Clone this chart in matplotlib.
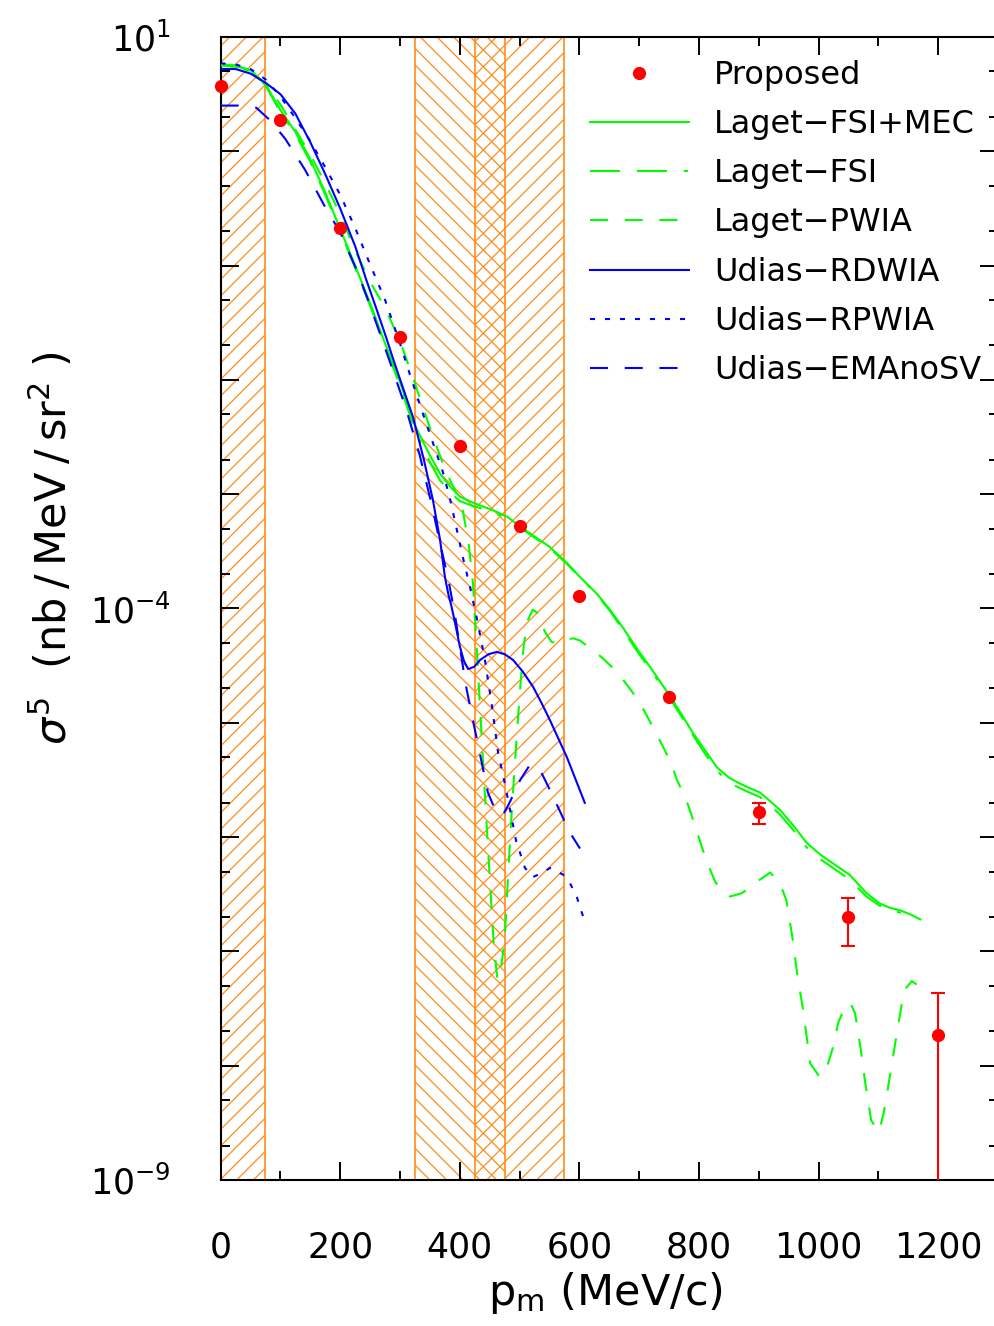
import numpy as np
import matplotlib
matplotlib.use("Agg")
import matplotlib.pyplot as plt
from matplotlib.lines import Line2D
from matplotlib.ticker import (FixedLocator, LogLocator, MultipleLocator,
                               FuncFormatter, NullFormatter)

plt.rcParams.update({
    "font.family": "DejaVu Sans",
    "mathtext.fontset": "dejavusans",
    "lines.scale_dashes": False,
    "hatch.linewidth": 0.9,
    "axes.linewidth": 1.5,
})

GREEN = "#00ff00"
BLUE = "#0000ff"
RED = "#ff0000"
ORANGE = "#ff8c1a"

# ---- proposed measurement: p_m (MeV/c), sigma5 (nb/MeV/sr^2) ----
prop_p = [0, 100, 200, 300, 400, 500, 600, 750, 900, 1050, 1200]
prop_log = [0.571, 0.270, -0.671, -1.625, -2.580, -3.280, -3.891, -4.772,
            -5.783, -6.696, -7.731]
prop_err = [0, 0, 0, 0, 0, 0, 0, 0, 0.35e-6, 0.89e-7, 2.47e-8]

# ---- Laget FSI+MEC (log10 sigma) ----
mec_p = [0, 25, 50, 75, 100, 125, 150, 175, 200, 225, 250, 275, 300, 325,
         350, 367, 385, 400, 420, 440, 460, 480, 500, 525, 550, 579, 600,
         629, 651, 673, 700, 718, 735, 752, 770, 790, 810, 830, 850, 864,
         880, 902, 920, 935, 958, 980, 1002, 1024, 1052, 1080, 1102, 1120,
         1136, 1155, 1170]
mec_log = [0.76, 0.75, 0.71, 0.59, 0.36, 0.17, -0.07, -0.36, -0.68, -1.00,
           -1.33, -1.68, -2.02, -2.40, -2.66, -2.82, -2.94, -3.02, -3.07,
           -3.11, -3.15, -3.20, -3.28, -3.37, -3.46, -3.60, -3.72, -3.87,
           -4.01, -4.17, -4.38, -4.51, -4.64, -4.77, -4.92, -5.09, -5.24,
           -5.39, -5.48, -5.52, -5.56, -5.61, -5.69, -5.76, -5.90, -6.05,
           -6.15, -6.23, -6.33, -6.49, -6.58, -6.62, -6.64, -6.68, -6.72]

# ---- Laget FSI ----
fsi_p = [0, 25, 50, 75, 100, 125, 150, 175, 200, 225, 250, 275, 300, 325,
         350, 367, 385, 400, 420, 440, 460, 480, 500, 525, 550, 579, 600,
         629, 651, 673, 700, 718, 735, 752, 770, 790, 810, 830, 850, 864,
         880, 902, 920, 935, 958, 980, 1002, 1024, 1052, 1080, 1102, 1120,
         1136, 1155]
fsi_log = [0.76, 0.75, 0.70, 0.58, 0.34, 0.15, -0.09, -0.38, -0.70, -1.02,
           -1.35, -1.70, -2.05, -2.44, -2.72, -2.88, -2.99, -3.06, -3.10,
           -3.13, -3.17, -3.21, -3.29, -3.38, -3.47, -3.61, -3.72, -3.88,
           -4.02, -4.19, -4.40, -4.53, -4.66, -4.79, -4.94, -5.11, -5.27,
           -5.42, -5.52, -5.56, -5.60, -5.65, -5.73, -5.80, -5.94, -6.09,
           -6.19, -6.27, -6.37, -6.52, -6.60, -6.64, -6.66, -6.69]

# ---- Laget PWIA ----
pwia_p = [0, 25, 50, 75, 100, 125, 150, 175, 200, 225, 250, 275, 300, 325,
          350, 375, 395, 405, 415, 422, 430, 440, 450, 457, 463, 467, 472,
          476, 482, 487, 492, 497, 502, 507, 514, 522, 530, 542, 553, 563,
          575, 589, 601, 616, 638, 660, 680, 698, 712, 727, 740, 754, 763,
          777, 787, 797, 805, 815, 827, 840, 852, 872, 897, 919, 935, 946,
          956, 964, 974, 986, 1002, 1014, 1024, 1033, 1043, 1053, 1061,
          1070, 1078, 1088, 1101, 1109, 1119, 1131, 1143, 1156, 1164]
pwia_log = [0.75, 0.74, 0.69, 0.59, 0.41, 0.19, -0.03, -0.28, -0.55, -0.87,
            -1.14, -1.37, -1.66, -2.03, -2.42, -2.78, -3.00, -3.14, -3.44,
            -3.78, -4.50, -5.45, -6.35, -6.95, -7.25, -7.22, -7.02, -6.80,
            -6.22, -5.76, -5.37, -4.98, -4.63, -4.32, -4.10, -4.01, -4.04,
            -4.20, -4.29, -4.31, -4.28, -4.26, -4.28, -4.34, -4.43, -4.54,
            -4.67, -4.80, -4.93, -5.08, -5.21, -5.36, -5.50, -5.65, -5.80,
            -5.96, -6.09, -6.24, -6.39, -6.48, -6.52, -6.49, -6.39, -6.31,
            -6.40, -6.55, -6.87, -7.19, -7.51, -7.98, -8.10, -8.01, -7.84,
            -7.62, -7.50, -7.45, -7.54, -7.84, -8.15, -8.48, -8.58, -8.41,
            -8.10, -7.71, -7.34, -7.26, -7.29]

# ---- Udias RDWIA ----
rdwia_p = [0, 25, 50, 75, 100, 125, 150, 175, 200, 225, 244, 260, 275, 290,
           305, 322, 340, 355, 367, 375, 381, 386, 393, 400, 407, 414, 424,
           434, 448, 462, 475, 489, 505, 522, 537, 551, 565, 579, 594, 609]
rdwia_log = [0.72, 0.72, 0.68, 0.60, 0.50, 0.33, 0.08, -0.20, -0.50, -0.83,
             -1.13, -1.37, -1.60, -1.84, -2.07, -2.33, -2.70, -3.05, -3.40,
             -3.72, -3.88, -3.98, -4.15, -4.33, -4.46, -4.53, -4.51, -4.45,
             -4.40, -4.38, -4.40, -4.45, -4.55, -4.68, -4.83, -4.98, -5.14,
             -5.30, -5.50, -5.70]

# ---- Udias RPWIA ----
rpwia_p = [0, 25, 50, 75, 100, 125, 150, 175, 200, 225, 250, 275, 300, 317,
           338, 355, 372, 384, 395, 405, 417, 429, 442, 454, 464, 474, 484,
           494, 509, 522, 535, 551, 563, 573, 584, 596, 604, 611]
rpwia_log = [0.77, 0.76, 0.72, 0.63, 0.48, 0.29, 0.09, -0.14, -0.38, -0.67,
             -0.99, -1.30, -1.68, -1.96, -2.29, -2.55, -2.81, -3.05, -3.31,
             -3.55, -3.81, -4.10, -4.45, -4.86, -5.26, -5.50, -5.76, -6.03,
             -6.27, -6.35, -6.32, -6.27, -6.30, -6.33, -6.40, -6.53, -6.66,
             -6.77]

# ---- Udias EMAnoSV ----
ema_p = [0, 30, 60, 83, 108, 141, 173, 200, 226, 248, 283, 310, 333, 353,
         367, 381, 392, 410, 422, 434, 447, 459, 467, 475, 484, 501, 517,
         534, 551, 568, 584, 601]
ema_log = [0.40, 0.40, 0.38, 0.27, 0.11, -0.16, -0.47, -0.71, -1.02, -1.32,
           -1.84, -2.25, -2.66, -3.09, -3.43, -3.75, -4.06, -4.67, -4.98,
           -5.28, -5.61, -5.76, -5.81, -5.78, -5.69, -5.50, -5.37, -5.41,
           -5.59, -5.78, -5.96, -6.10]

# hatched p_m windows
bands = [(0, 75), (325, 475), (425, 575)]
band_hatch = ["//", "\\\\", "//"]

W, H = 995, 1326
fig = plt.figure(figsize=(W / 100, H / 100), dpi=100)
ax = fig.add_axes([220.6 / W, 146 / H, 777.4 / W, 1143 / H])

for (lo, hi), h in zip(bands, band_hatch):
    ax.axvspan(lo, hi, facecolor="none", edgecolor=ORANGE, hatch=h,
               lw=1.2, zorder=1)

lw = 1.5
FSI_DASH = (21.6, 12.2, 21.6, 12.2, 2.9, 12.2)
MID_DASH = (13, 12)
DOTS = (3.6, 7.2)

ax.plot(mec_p, 10.0 ** np.array(mec_log), color=GREEN, lw=lw, zorder=3)
ax.plot(fsi_p, 10.0 ** np.array(fsi_log), color=GREEN, lw=lw, zorder=3,
        dashes=FSI_DASH)
ax.plot(pwia_p, 10.0 ** np.array(pwia_log), color=GREEN, lw=lw, zorder=3,
        dashes=MID_DASH)
ax.plot(rdwia_p, 10.0 ** np.array(rdwia_log), color=BLUE, lw=lw, zorder=3)
ax.plot(rpwia_p, 10.0 ** np.array(rpwia_log), color=BLUE, lw=lw, zorder=3,
        dashes=DOTS)
ax.plot(ema_p, 10.0 ** np.array(ema_log), color=BLUE, lw=lw, zorder=3,
        dashes=MID_DASH)

prop_sig = 10.0 ** np.array(prop_log)
prop_err = np.array(prop_err)
has_err = prop_err > 0
ax.errorbar(np.array(prop_p)[has_err], prop_sig[has_err],
            yerr=prop_err[has_err], fmt="none", ecolor=RED, elinewidth=1.5,
            capsize=4.7, capthick=1.5, zorder=4)
ax.plot(prop_p, prop_sig, "o", color=RED, ms=9.5, mec="none", zorder=5,
        clip_on=False)

ax.set_yscale("log")
ax.set_xlim(0, 1300)
ax.set_ylim(1e-9, 1e1)

shown = {1: "$10^{1}$", -4: "$10^{-4}$", -9: "$10^{-9}$"}
ax.yaxis.set_major_locator(FixedLocator(10.0 ** np.arange(-9, 2)))
ax.yaxis.set_minor_locator(LogLocator(base=10, subs=(2, 5), numticks=40))
ax.yaxis.set_major_formatter(FuncFormatter(
    lambda v, pos: shown.get(int(round(np.log10(v))), "")))
ax.yaxis.set_minor_formatter(NullFormatter())
ax.xaxis.set_major_locator(MultipleLocator(200))
ax.xaxis.set_minor_locator(MultipleLocator(100))
ax.xaxis.set_major_formatter(FuncFormatter(lambda v, pos: f"{v:.0f}"))

ax.tick_params(which="both", direction="in", top=True, right=True, width=1.4)
ax.tick_params(which="major", length=13, labelsize=25, pad=36)
ax.tick_params(which="minor", length=6.5)

ax.set_xlabel(r"$\mathrm{p_m}$ (MeV/c)", fontsize=31)
ax.xaxis.set_label_coords(0.4945, -0.079)
ax.set_ylabel("$\\sigma^{5}$  (nb\u2009/\u2009MeV\u2009/\u2009sr$^{2}$ )",
              fontsize=31)
ax.yaxis.set_label_coords(-0.186, 0.553)

handles = [
    Line2D([], [], ls="none", marker="o", color=RED, ms=9.5, mec="none"),
    Line2D([], [], color=GREEN, lw=lw),
    Line2D([], [], color=GREEN, lw=lw, dashes=FSI_DASH),
    Line2D([], [], color=GREEN, lw=lw, dashes=MID_DASH),
    Line2D([], [], color=BLUE, lw=lw),
    Line2D([], [], color=BLUE, lw=lw, dashes=DOTS),
    Line2D([], [], color=BLUE, lw=lw, dashes=MID_DASH),
]
labels = ["Proposed", "Laget\u2212FSI+MEC", "Laget\u2212FSI", "Laget\u2212PWIA",
          "Udias\u2212RDWIA", "Udias\u2212RPWIA", "Udias\u2212EMAnoSV"]
ax.legend(handles, labels, loc="upper left", bbox_to_anchor=(0.475, 0.980),
          frameon=False, fontsize=23, handlelength=3.1, handletextpad=0.78,
          labelspacing=0.57, borderaxespad=0, borderpad=0)

fig.savefig("out.png", dpi=100)
